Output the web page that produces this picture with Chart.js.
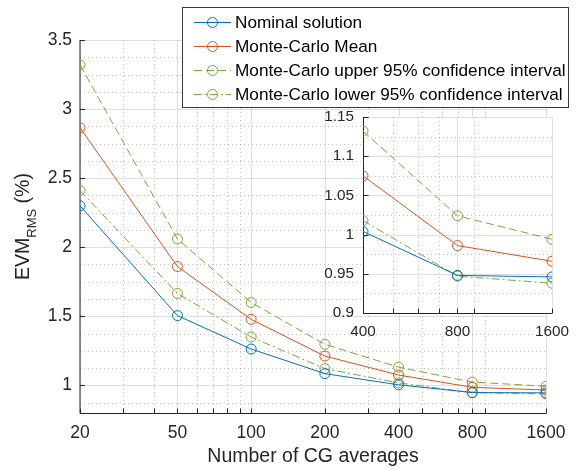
<!DOCTYPE html>
<html>
<head>
<meta charset="utf-8">
<script src="https://cdn.jsdelivr.net/npm/chart.js@4/dist/chart.umd.min.js"></script>
<style>
  html, body { margin: 0; padding: 0; background: #fff; }
  #wrap { position: relative; width: 579px; height: 470px; }
  canvas { position: absolute; left: 0; top: 0; }
</style>
</head>
<body>
<div id="wrap">
  <canvas id="main" width="579" height="470"></canvas>
  <canvas id="inset" width="579" height="470"></canvas>
</div>
<script>
// ---------------- data ----------------
const categories = [20, 50, 100, 200, 400, 800, 1600];
const nominal   = [2.30, 1.505, 1.263, 1.085, 1.004, 0.948, 0.946];
const mcMean    = [2.865, 1.86, 1.478, 1.212, 1.075, 0.986, 0.966];
const mcUpper   = [3.32, 2.06, 1.60, 1.297, 1.132, 1.024, 0.994];
const mcLower   = [2.41, 1.665, 1.35, 1.121, 1.018, 0.947, 0.938];

const seriesLabels = [
  'Nominal solution',
  'Monte-Carlo Mean',
  'Monte-Carlo upper 95% confidence interval',
  'Monte-Carlo lower 95% confidence interval'
];

const xTicksMain  = [20, 50, 100, 200, 400, 800, 1600];
const xMinorMain  = [30, 40, 60, 70, 80, 90, 300, 500, 600, 700, 900];
const yTicksMain  = [1, 1.5, 2, 2.5, 3, 3.5];
const yMinorMain  = [0.875, 1.125, 1.25, 1.375, 1.625, 1.75, 1.875, 2.125, 2.25, 2.375, 2.625, 2.75, 2.875, 3.125, 3.25, 3.375];

const insetCategories = [400, 800, 1600];
const xTicksInset = [400, 800, 1600];
const xMinorInset = [500, 600, 700, 900];
const yTicksInset = [0.9, 0.95, 1, 1.05, 1.1, 1.15];
const yMinorInset = [0.925, 0.975, 1.025, 1.075, 1.125];

const xTitle = 'Number of CG averages';

// ---------------- styling ----------------
const FONT = '"Liberation Sans", Arial, Helvetica, sans-serif';
const TXT = '#262626';
const COLORS = ['#0072BD', '#D95319', '#77AC30', '#77AC30'];
const DASHES = [[], [], [8, 4], [8, 3, 2, 3]];

function pts(xs, ys) { return xs.map((x, i) => ({ x: x, y: ys[i] })); }

function makeDatasets(xs, arrays) {
  return arrays.map((arr, i) => ({
    label: seriesLabels[i],
    data: pts(xs, arr),
    borderColor: COLORS[i],
    borderWidth: 1,
    borderDash: DASHES[i],
    pointStyle: 'circle',
    pointRadius: 5,
    pointBorderWidth: 1,
    pointBorderColor: COLORS[i],
    pointBackgroundColor: 'rgba(0,0,0,0)',
    tension: 0,
    fill: false
  }));
}

function gridPlugin(xMajor, xMinor, yMajor, yMinor, softLeft) {
  return {
    id: 'matlabGrid',
    beforeDatasetsDraw(chart) {
      const { ctx, chartArea: a, scales } = chart;
      const xs = scales.x, ys = scales.y;
      ctx.save();
      ctx.fillStyle = '#fff';
      ctx.fillRect(a.left, a.top, a.right - a.left, a.bottom - a.top);
      ctx.lineWidth = 1;
      // minor (dotted)
      ctx.strokeStyle = 'rgba(38,38,38,0.28)';
      ctx.setLineDash([1, 3]);
      xMinor.forEach(v => {
        const p = Math.round(xs.getPixelForValue(v)) + 0.5;
        ctx.beginPath(); ctx.moveTo(p, a.top); ctx.lineTo(p, a.bottom); ctx.stroke();
      });
      yMinor.forEach(v => {
        const p = Math.round(ys.getPixelForValue(v)) + 0.5;
        if (p < a.top || p > a.bottom) return;
        ctx.beginPath(); ctx.moveTo(a.left, p); ctx.lineTo(a.right, p); ctx.stroke();
      });
      // major (solid)
      ctx.setLineDash([]);
      ctx.strokeStyle = 'rgba(38,38,38,0.15)';
      xMajor.forEach(v => {
        const p = Math.round(xs.getPixelForValue(v)) + 0.5;
        ctx.beginPath(); ctx.moveTo(p, a.top); ctx.lineTo(p, a.bottom); ctx.stroke();
      });
      yMajor.forEach(v => {
        const p = Math.round(ys.getPixelForValue(v)) + 0.5;
        ctx.beginPath(); ctx.moveTo(a.left, p); ctx.lineTo(a.right, p); ctx.stroke();
      });
      // axis lines
      ctx.strokeStyle = TXT;
      ctx.lineWidth = 1;
      const L = Math.round(a.left) + (softLeft ? 0 : 0.5), B = Math.round(a.bottom) + 0.5;
      ctx.beginPath(); ctx.moveTo(L, a.top); ctx.lineTo(L, B); ctx.stroke();
      ctx.beginPath(); ctx.moveTo(Math.round(a.left), B); ctx.lineTo(a.right, B); ctx.stroke();
      // inward tick marks
      const tl = 5;
      xMajor.concat(xMinor).forEach(v => {
        const p = Math.round(xs.getPixelForValue(v)) + 0.5;
        ctx.beginPath(); ctx.moveTo(p, B); ctx.lineTo(p, B - tl); ctx.stroke();
      });
      yMajor.forEach(v => {
        const p = Math.round(ys.getPixelForValue(v)) + 0.5;
        ctx.beginPath(); ctx.moveTo(L, p); ctx.lineTo(L + tl, p); ctx.stroke();
      });
      ctx.restore();
    }
  };
}

const legendPlugin = {
  id: 'boxLegend',
  afterDraw(chart) {
    const ctx = chart.ctx;
    const bx = 182.5, by = 7.5, bw = 386, bh = 100;
    ctx.save();
    ctx.fillStyle = '#fff';
    ctx.fillRect(bx, by, bw, bh);
    ctx.strokeStyle = '#3a3a3a';
    ctx.lineWidth = 1;
    ctx.strokeRect(bx, by, bw, bh);
    ctx.font = '17.2px ' + FONT;
    ctx.textBaseline = 'middle';
    ctx.textAlign = 'left';
    chart.data.datasets.forEach((ds, i) => {
      const yy = 22 + i * 24;
      ctx.strokeStyle = ds.borderColor;
      ctx.setLineDash(ds.borderDash || []);
      ctx.lineWidth = 1;
      ctx.beginPath(); ctx.moveTo(194, yy + 0.5); ctx.lineTo(231, yy + 0.5); ctx.stroke();
      ctx.setLineDash([]);
      ctx.beginPath(); ctx.arc(212.5, yy + 0.5, 5, 0, Math.PI * 2); ctx.stroke();
      ctx.fillStyle = '#000';
      ctx.fillText(ds.label, 235, yy + 1);
    });
    ctx.restore();
  }
};

const titlesPlugin = {
  id: 'axisTitles',
  afterDraw(chart) {
    const ctx = chart.ctx;
    const a = chart.chartArea;
    ctx.save();
    ctx.fillStyle = TXT;
    // x title
    ctx.font = '19.5px ' + FONT;
    ctx.textAlign = 'center';
    ctx.textBaseline = 'middle';
    ctx.fillText(xTitle, (a.left + a.right) / 2, 457);
    // y title with subscript
    const big = '19.5px ' + FONT, small = '13px ' + FONT;
    ctx.font = big; const w1 = ctx.measureText('EVM').width;
    ctx.font = small; const w2 = ctx.measureText('RMS').width;
    ctx.font = big; const w3 = ctx.measureText(' (%)').width;
    const total = w1 + w2 + w3;
    ctx.translate(24, (a.top + a.bottom) / 2);
    ctx.rotate(-Math.PI / 2);
    ctx.textAlign = 'left';
    ctx.textBaseline = 'middle';
    let x0 = -total / 2;
    ctx.font = big; ctx.fillText('EVM', x0, 0); x0 += w1;
    ctx.font = small; ctx.fillText('RMS', x0, 8); x0 += w2;
    ctx.font = big; ctx.fillText(' (%)', x0, 0);
    ctx.restore();
  }
};

function fmt(v) { return String(Math.round(v * 1000) / 1000); }

// ---------------- main chart ----------------
new Chart(document.getElementById('main'), {
  type: 'line',
  data: { datasets: makeDatasets(categories, [nominal, mcMean, mcUpper, mcLower]) },
  options: {
    responsive: false,
    animation: false,
    devicePixelRatio: 1,
    layout: { padding: { left: 0, right: 33, top: 40, bottom: 0 } },
    plugins: { legend: { display: false }, tooltip: { enabled: false } },
    scales: {
      x: {
        type: 'logarithmic', min: 20, max: 1600,
        afterBuildTicks: s => { s.ticks = xTicksMain.map(v => ({ value: v })); },
        afterFit: s => { s.height = 57; },
        grid: { display: false, drawTicks: false },
        border: { display: false },
        ticks: { autoSkip: false, maxRotation: 0, padding: 10, color: TXT,
                 font: { size: 17.5, family: FONT }, callback: v => fmt(v) }
      },
      y: {
        type: 'linear', min: 0.8, max: 3.5,
        afterBuildTicks: s => { s.ticks = yTicksMain.map(v => ({ value: v })); },
        afterFit: s => { s.width = 80; },
        grid: { display: false, drawTicks: false },
        border: { display: false },
        ticks: { autoSkip: false, padding: 8, color: TXT,
                 font: { size: 17.5, family: FONT }, callback: v => fmt(v) }
      }
    }
  },
  plugins: [gridPlugin(xTicksMain, xMinorMain, yTicksMain, yMinorMain, true), legendPlugin, titlesPlugin]
});

// ---------------- inset chart ----------------
const sl = a => a.slice(4);
new Chart(document.getElementById('inset'), {
  type: 'line',
  data: { datasets: makeDatasets(insetCategories, [sl(nominal), sl(mcMean), sl(mcUpper), sl(mcLower)]) },
  options: {
    responsive: false,
    animation: false,
    devicePixelRatio: 1,
    layout: { padding: { left: 0, right: 17, top: 117, bottom: 0 } },
    plugins: { legend: { display: false }, tooltip: { enabled: false } },
    scales: {
      x: {
        type: 'logarithmic', min: 400, max: 1600,
        afterBuildTicks: s => { s.ticks = xTicksInset.map(v => ({ value: v })); },
        afterFit: s => { s.height = 157; },
        grid: { display: false, drawTicks: false },
        border: { display: false },
        ticks: { autoSkip: false, maxRotation: 0, padding: 10, color: TXT,
                 font: { size: 15.3, family: FONT }, callback: v => fmt(v) }
      },
      y: {
        type: 'linear', min: 0.9, max: 1.15,
        afterBuildTicks: s => { s.ticks = yTicksInset.map(v => ({ value: v })); },
        afterFit: s => { s.width = 363; },
        grid: { display: false, drawTicks: false },
        border: { display: false },
        ticks: { autoSkip: false, padding: 9, color: TXT,
                 font: { size: 15.3, family: FONT }, callback: v => fmt(v) }
      }
    }
  },
  plugins: [gridPlugin(xTicksInset, xMinorInset, yTicksInset, yMinorInset, false)]
});
</script>
</body>
</html>
